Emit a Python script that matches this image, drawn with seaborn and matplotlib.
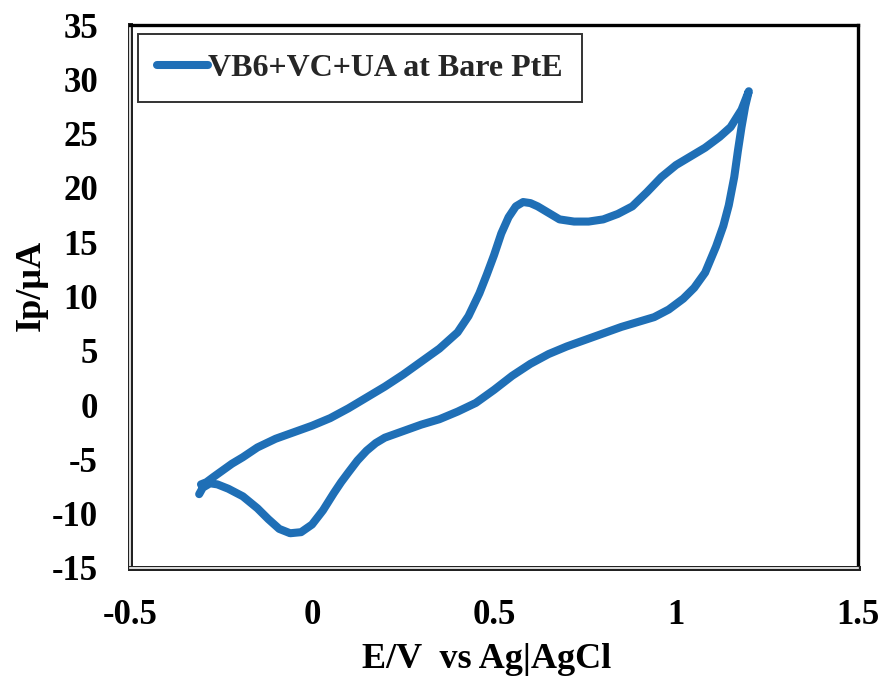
import matplotlib
matplotlib.use("Agg")
import matplotlib.pyplot as plt
import matplotlib.patheffects as pe
import pandas as pd
import seaborn as sns

# Anodic (forward) scan: potential E (V vs Ag|AgCl) and current Ip (uA)
E_forward = [-0.305, -0.29, -0.27, -0.245, -0.22, -0.19, -0.15, -0.10, -0.05, 0.00,
             0.05, 0.10, 0.15, 0.20, 0.25, 0.30, 0.35, 0.40, 0.43, 0.46,
             0.48, 0.50, 0.52, 0.54, 0.56, 0.58, 0.60, 0.62, 0.65, 0.68,
             0.72, 0.76, 0.80, 0.84, 0.88, 0.92, 0.96, 1.00, 1.04, 1.08,
             1.12, 1.15, 1.18, 1.20]
I_forward = [-7.3, -7.1, -6.6, -6.0, -5.4, -4.8, -3.9, -3.1, -2.5, -1.9,
             -1.2, -0.3, 0.7, 1.7, 2.8, 4.0, 5.2, 6.7, 8.2, 10.3,
             12.0, 13.8, 15.8, 17.3, 18.3, 18.7, 18.6, 18.3, 17.7, 17.1,
             16.9, 16.9, 17.1, 17.6, 18.3, 19.6, 21.0, 22.1, 22.9, 23.7,
             24.7, 25.6, 27.2, 28.9]

# Cathodic (reverse) scan
E_reverse = [1.20, 1.19, 1.18, 1.17, 1.16, 1.145, 1.13, 1.11, 1.08, 1.05,
             1.02, 0.98, 0.94, 0.90, 0.85, 0.80, 0.75, 0.70, 0.65, 0.60,
             0.55, 0.50, 0.45, 0.40, 0.35, 0.30, 0.25, 0.20, 0.175, 0.15,
             0.125, 0.10, 0.08, 0.06, 0.03, 0.00, -0.03, -0.06, -0.09, -0.12,
             -0.15, -0.19, -0.23, -0.26, -0.28, -0.30, -0.31]
I_reverse = [28.9, 27.5, 25.6, 23.4, 21.0, 18.4, 16.5, 14.6, 12.2, 10.8,
             9.8, 8.8, 8.1, 7.7, 7.2, 6.6, 6.0, 5.4, 4.7, 3.8,
             2.7, 1.4, 0.2, -0.6, -1.3, -1.8, -2.4, -3.0, -3.5, -4.2,
             -5.1, -6.2, -7.1, -8.1, -9.7, -11.0, -11.7, -11.8, -11.4, -10.5,
             -9.5, -8.4, -7.7, -7.3, -7.2, -7.6, -8.2]

series_label = "VB6+VC+UA at Bare PtE"
x_ticks = [-0.5, 0, 0.5, 1, 1.5]
x_tick_labels = ["-0.5", "0", "0.5", "1", "1.5"]
y_ticks = [-15, -10, -5, 0, 5, 10, 15, 20, 25, 30, 35]
y_tick_labels = ["-15", "-10", "-5", "0", "5", "10", "15", "20", "25", "30", "35"]

df = pd.DataFrame({
    "E": E_forward + E_reverse,
    "I": I_forward + I_reverse,
})

sns.set_theme(style="white")
plt.rcParams["font.family"] = ["Liberation Serif", "DejaVu Serif"]
plt.rcParams["font.weight"] = "bold"
plt.rcParams["axes.unicode_minus"] = False

fig = plt.figure(figsize=(8.87, 6.86), dpi=100)
ax = fig.add_axes([130 / 887, 1 - 568 / 686, 728 / 887, 543 / 686])

line_color = "#1f6fb6"
sns.lineplot(data=df, x="E", y="I", sort=False, estimator=None, ax=ax,
             color=line_color, linewidth=5.8, label=series_label,
             solid_capstyle="round", solid_joinstyle="round")

ax.set_xlim(-0.5, 1.5)
ax.set_ylim(-15, 35)
ax.set_xticks(x_ticks)
ax.set_xticklabels(x_tick_labels)
ax.set_yticks(y_ticks)
ax.set_yticklabels(y_tick_labels)
ax.tick_params(axis="both", length=0, labelsize=25, colors="black")
ax.tick_params(axis="y", pad=23)
ax.tick_params(axis="x", pad=22)
for lab in ax.get_xticklabels() + ax.get_yticklabels():
    lab.set_fontweight("bold")

ax.set_xlabel("E/V  vs Ag|AgCl", fontsize=26, fontweight="bold", color="black")
ax.set_ylabel("Ip/\u00b5A", fontsize=26, fontweight="bold", color="black")
ax.xaxis.set_label_coords(0.49, -0.138)
ax.yaxis.set_label_coords(-0.113, 0.52)

# Plot-area frame: heavy top/right edges, double-ruled left/bottom edges
for side in ("top", "right"):
    ax.spines[side].set_color("black")
    ax.spines[side].set_linewidth(2.4)
for side in ("left", "bottom"):
    sp = ax.spines[side]
    sp.set_color("black")
    sp.set_linewidth(3.6)
    sp.set_path_effects([pe.Stroke(linewidth=3.6, foreground="#222222"),
                         pe.Stroke(linewidth=1.2, foreground="white")])

leg = ax.legend(loc="upper left", bbox_to_anchor=(0.011, 0.983), frameon=True,
                fancybox=False, framealpha=1, edgecolor="#333333",
                prop={"size": 23, "weight": "bold"}, handlelength=1.6,
                handletextpad=0.0, borderpad=0.6, borderaxespad=0.0)
leg.get_frame().set_linewidth(1.4)

fig.savefig("out.png", dpi=100, facecolor="white")
